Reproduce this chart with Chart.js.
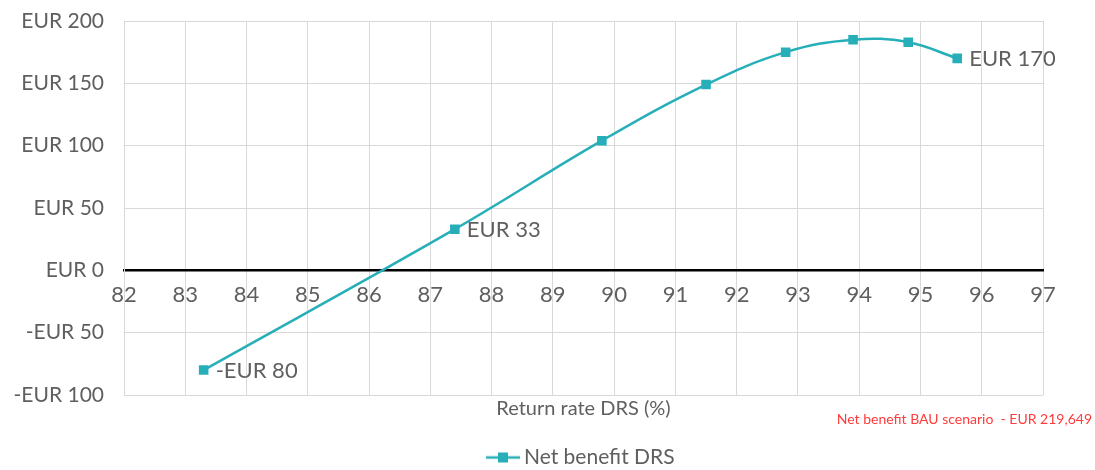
<!DOCTYPE html>
<html>
<head>
<meta charset="utf-8">
<script src="https://cdn.jsdelivr.net/npm/chart.js@4"></script>
<style>
  html, body { margin: 0; padding: 0; background: #fff; }
  #wrap { width: 1095px; height: 470px; }
</style>
</head>
<body>
<div id="wrap"><canvas id="myChart" width="1095" height="470"></canvas></div>
<script>
// data
const returnRate = [83.3, 87.4, 89.8, 91.5, 92.8, 93.9, 94.8, 95.6];
const netBenefit = [-80, 33, 104, 149, 175, 185, 183, 170];
const labelledPoints = [0, 1, 7];
const seriesName = 'Net benefit DRS';
const xTitle = 'Return rate DRS (%)';
const noteText = 'Net benefit BAU scenario  - EUR 219,649';

const teal = '#27AFB9';
const textGrey = '#5F5F5F';
const gridGrey = '#D9D9D9';
const fontFamily = 'Lato, "Open Sans", sans-serif';

function eur(v) {
  return (v < 0 ? '-EUR ' : 'EUR ') + Math.abs(v);
}

// legend marker: line with a square on it
const marker = document.createElement('canvas');
marker.width = 34;
marker.height = 12;
(function () {
  const m = marker.getContext('2d');
  m.strokeStyle = teal;
  m.lineWidth = 2.5;
  m.beginPath();
  m.moveTo(0, 6);
  m.lineTo(34, 6);
  m.stroke();
  m.fillStyle = teal;
  m.fillRect(12, 1, 10, 10);
})();

// value labels next to some points + the red note
const extraText = {
  id: 'extraText',
  afterDatasetsDraw(chart) {
    const ctx = chart.ctx;
    const meta = chart.getDatasetMeta(0);
    ctx.save();
    ctx.font = '22px ' + fontFamily;
    ctx.fillStyle = textGrey;
    ctx.textAlign = 'left';
    ctx.textBaseline = 'middle';
    labelledPoints.forEach(function (i) {
      const el = meta.data[i];
      ctx.fillText(eur(netBenefit[i]), el.x + 12, el.y + 1);
    });
    ctx.font = '14px ' + fontFamily;
    ctx.fillStyle = '#FF3B3B';
    ctx.textAlign = 'right';
    ctx.fillText(noteText, 1092, 419);
    ctx.restore();
  }
};

document.addEventListener("DOMContentLoaded", function () {
  const ctx = document.getElementById('myChart').getContext('2d');

  new Chart(ctx, {
    type: 'line',
    data: {
      datasets: [{
        label: seriesName,
        data: returnRate.map((x, i) => ({ x: x, y: netBenefit[i] })),
        borderColor: teal,
        backgroundColor: teal,
        borderWidth: 2.5,
        pointStyle: 'rect',
        pointRadius: 5,
        pointHoverRadius: 5,
        tension: 0.4,
        fill: false
      }]
    },
    options: {
      responsive: false,
      animation: false,
      layout: { padding: { top: 0, right: 52, bottom: -8, left: 0 } },
      plugins: {
        legend: {
          display: true,
          position: 'bottom',
          fullSize: false,
          labels: {
            usePointStyle: true,
            color: textGrey,
            font: { family: fontFamily, size: 21 },
            padding: 0,
            generateLabels: function () {
              return [{
                text: seriesName,
                pointStyle: marker,
                fillStyle: teal,
                strokeStyle: teal,
                lineWidth: 0,
                fontColor: textGrey,
                datasetIndex: 0
              }];
            }
          }
        },
        tooltip: { enabled: false }
      },
      scales: {
        x: {
          type: 'linear',
          position: { y: 0 },
          min: 82,
          max: 97,
          afterFit: function (scale) { scale.height = 0; },
          ticks: {
            stepSize: 1,
            color: textGrey,
            padding: 11,
            font: { family: fontFamily, size: 22 }
          },
          grid: { color: gridGrey, lineWidth: 1, drawTicks: false },
          border: { color: '#000', width: 2.5 }
        },
        x2: {
          type: 'linear',
          position: 'bottom',
          min: 82,
          max: 97,
          ticks: { display: false },
          grid: { display: false, drawTicks: false },
          border: { display: false },
          title: {
            display: true,
            text: xTitle,
            color: textGrey,
            font: { family: fontFamily, size: 20 },
            padding: { top: 2, bottom: 26 }
          }
        },
        y: {
          min: -100,
          max: 200,
          afterFit: function (scale) {
            scale.width = 124;
            scale.paddingTop = 21;
            scale.paddingBottom = 0;
          },
          ticks: {
            stepSize: 50,
            color: textGrey,
            padding: 20,
            font: { family: fontFamily, size: 21 },
            callback: function (v) { return eur(v); }
          },
          grid: { color: gridGrey, lineWidth: 1, drawTicks: false },
          border: { color: gridGrey, width: 1 }
        }
      }
    },
    plugins: [extraText]
  });
});
</script>
</body>
</html>
